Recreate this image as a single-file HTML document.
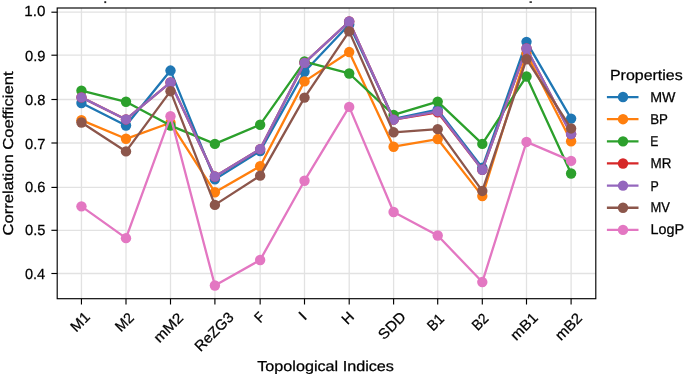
<!DOCTYPE html>
<html><head><meta charset="utf-8"><title>chart</title>
<style>html,body{margin:0;padding:0;background:#fff}body{width:685px;height:376px;overflow:hidden;position:relative}svg{position:absolute;left:0;top:0;will-change:transform;opacity:0.999}</style></head>
<body>
<svg width="685" height="376" viewBox="0 0 685 376" style="display:block;font-family:'Liberation Sans',sans-serif;text-rendering:geometricPrecision">
<style>text{stroke:#000;stroke-width:0.25px;fill:#000}</style>
<rect width="685" height="376" fill="#fff"/>
<filter id="b" x="-5" y="-5" width="695" height="386" filterUnits="userSpaceOnUse" color-interpolation-filters="sRGB"><feGaussianBlur stdDeviation="0"/></filter>
<g>
<rect x="-5" y="-5" width="695" height="386" fill="#fff"/>
<rect x="104.3" y="1.2" width="1.9" height="1.9" fill="#222"/>
<rect x="529.5" y="1.25" width="2.4" height="1.7" fill="#333"/>
<line x1="81.45" y1="8.0" x2="81.45" y2="298.7" stroke="#e2e2e2" stroke-width="1.3"/>
<line x1="126.00" y1="8.0" x2="126.00" y2="298.7" stroke="#e2e2e2" stroke-width="1.3"/>
<line x1="170.50" y1="8.0" x2="170.50" y2="298.7" stroke="#e2e2e2" stroke-width="1.3"/>
<line x1="214.90" y1="8.0" x2="214.90" y2="298.7" stroke="#e2e2e2" stroke-width="1.3"/>
<line x1="260.15" y1="8.0" x2="260.15" y2="298.7" stroke="#e2e2e2" stroke-width="1.3"/>
<line x1="304.50" y1="8.0" x2="304.50" y2="298.7" stroke="#e2e2e2" stroke-width="1.3"/>
<line x1="349.20" y1="8.0" x2="349.20" y2="298.7" stroke="#e2e2e2" stroke-width="1.3"/>
<line x1="393.60" y1="8.0" x2="393.60" y2="298.7" stroke="#e2e2e2" stroke-width="1.3"/>
<line x1="437.70" y1="8.0" x2="437.70" y2="298.7" stroke="#e2e2e2" stroke-width="1.3"/>
<line x1="482.30" y1="8.0" x2="482.30" y2="298.7" stroke="#e2e2e2" stroke-width="1.3"/>
<line x1="526.50" y1="8.0" x2="526.50" y2="298.7" stroke="#e2e2e2" stroke-width="1.3"/>
<line x1="571.10" y1="8.0" x2="571.10" y2="298.7" stroke="#e2e2e2" stroke-width="1.3"/>
<line x1="57.2" y1="273.50" x2="595.8" y2="273.50" stroke="#e2e2e2" stroke-width="1.3"/>
<line x1="57.2" y1="230.30" x2="595.8" y2="230.30" stroke="#e2e2e2" stroke-width="1.3"/>
<line x1="57.2" y1="187.40" x2="595.8" y2="187.40" stroke="#e2e2e2" stroke-width="1.3"/>
<line x1="57.2" y1="143.00" x2="595.8" y2="143.00" stroke="#e2e2e2" stroke-width="1.3"/>
<line x1="57.2" y1="99.50" x2="595.8" y2="99.50" stroke="#e2e2e2" stroke-width="1.3"/>
<line x1="57.2" y1="55.20" x2="595.8" y2="55.20" stroke="#e2e2e2" stroke-width="1.3"/>
<line x1="57.2" y1="12.20" x2="595.8" y2="12.20" stroke="#e2e2e2" stroke-width="1.3"/>
<clipPath id="c"><rect x="57.2" y="8.0" width="538.5999999999999" height="290.7"/></clipPath>
<g clip-path="url(#c)">
<polyline points="81.45,102.98 126.00,125.52 170.50,70.56 214.90,179.36 260.15,151.07 304.50,71.73 349.20,24.43 393.60,118.86 437.70,109.72 482.30,167.61 526.50,41.83 571.10,118.60" fill="none" stroke="#1f77b4" stroke-width="2.3" stroke-linejoin="round"/>
<circle cx="81.45" cy="102.98" r="5.2" fill="#1f77b4"/>
<circle cx="126.00" cy="125.52" r="5.2" fill="#1f77b4"/>
<circle cx="170.50" cy="70.56" r="5.2" fill="#1f77b4"/>
<circle cx="214.90" cy="179.36" r="5.2" fill="#1f77b4"/>
<circle cx="260.15" cy="151.07" r="5.2" fill="#1f77b4"/>
<circle cx="304.50" cy="71.73" r="5.2" fill="#1f77b4"/>
<circle cx="349.20" cy="24.43" r="5.2" fill="#1f77b4"/>
<circle cx="393.60" cy="118.86" r="5.2" fill="#1f77b4"/>
<circle cx="437.70" cy="109.72" r="5.2" fill="#1f77b4"/>
<circle cx="482.30" cy="167.61" r="5.2" fill="#1f77b4"/>
<circle cx="526.50" cy="41.83" r="5.2" fill="#1f77b4"/>
<circle cx="571.10" cy="118.60" r="5.2" fill="#1f77b4"/>
<polyline points="81.45,120.17 126.00,138.80 170.50,122.78 214.90,192.20 260.15,166.21 304.50,81.39 349.20,52.06 393.60,146.72 437.70,139.06 482.30,196.11 526.50,53.58 571.10,141.28" fill="none" stroke="#ff7f0e" stroke-width="2.3" stroke-linejoin="round"/>
<circle cx="81.45" cy="120.17" r="5.2" fill="#ff7f0e"/>
<circle cx="126.00" cy="138.80" r="5.2" fill="#ff7f0e"/>
<circle cx="170.50" cy="122.78" r="5.2" fill="#ff7f0e"/>
<circle cx="214.90" cy="192.20" r="5.2" fill="#ff7f0e"/>
<circle cx="260.15" cy="166.21" r="5.2" fill="#ff7f0e"/>
<circle cx="304.50" cy="81.39" r="5.2" fill="#ff7f0e"/>
<circle cx="349.20" cy="52.06" r="5.2" fill="#ff7f0e"/>
<circle cx="393.60" cy="146.72" r="5.2" fill="#ff7f0e"/>
<circle cx="437.70" cy="139.06" r="5.2" fill="#ff7f0e"/>
<circle cx="482.30" cy="196.11" r="5.2" fill="#ff7f0e"/>
<circle cx="526.50" cy="53.58" r="5.2" fill="#ff7f0e"/>
<circle cx="571.10" cy="141.28" r="5.2" fill="#ff7f0e"/>
<polyline points="81.45,90.66 126.00,101.76 170.50,125.61 214.90,143.89 260.15,124.70 304.50,61.55 349.20,73.47 393.60,114.95 437.70,101.59 482.30,143.89 526.50,76.48 571.10,173.53" fill="none" stroke="#2ca02c" stroke-width="2.3" stroke-linejoin="round"/>
<circle cx="81.45" cy="90.66" r="5.2" fill="#2ca02c"/>
<circle cx="126.00" cy="101.76" r="5.2" fill="#2ca02c"/>
<circle cx="170.50" cy="125.61" r="5.2" fill="#2ca02c"/>
<circle cx="214.90" cy="143.89" r="5.2" fill="#2ca02c"/>
<circle cx="260.15" cy="124.70" r="5.2" fill="#2ca02c"/>
<circle cx="304.50" cy="61.55" r="5.2" fill="#2ca02c"/>
<circle cx="349.20" cy="73.47" r="5.2" fill="#2ca02c"/>
<circle cx="393.60" cy="114.95" r="5.2" fill="#2ca02c"/>
<circle cx="437.70" cy="101.59" r="5.2" fill="#2ca02c"/>
<circle cx="482.30" cy="143.89" r="5.2" fill="#2ca02c"/>
<circle cx="526.50" cy="76.48" r="5.2" fill="#2ca02c"/>
<circle cx="571.10" cy="173.53" r="5.2" fill="#2ca02c"/>
<polyline points="81.45,97.37 126.00,119.43 170.50,82.48 214.90,176.53 260.15,149.11 304.50,62.90 349.20,21.55 393.60,119.69 437.70,112.34 482.30,169.78 526.50,48.45 571.10,134.10" fill="none" stroke="#d62728" stroke-width="2.3" stroke-linejoin="round"/>
<circle cx="81.45" cy="97.37" r="5.2" fill="#d62728"/>
<circle cx="126.00" cy="119.43" r="5.2" fill="#d62728"/>
<circle cx="170.50" cy="82.48" r="5.2" fill="#d62728"/>
<circle cx="214.90" cy="176.53" r="5.2" fill="#d62728"/>
<circle cx="260.15" cy="149.11" r="5.2" fill="#d62728"/>
<circle cx="304.50" cy="62.90" r="5.2" fill="#d62728"/>
<circle cx="349.20" cy="21.55" r="5.2" fill="#d62728"/>
<circle cx="393.60" cy="119.69" r="5.2" fill="#d62728"/>
<circle cx="437.70" cy="112.34" r="5.2" fill="#d62728"/>
<circle cx="482.30" cy="169.78" r="5.2" fill="#d62728"/>
<circle cx="526.50" cy="48.45" r="5.2" fill="#d62728"/>
<circle cx="571.10" cy="134.10" r="5.2" fill="#d62728"/>
<polyline points="81.45,97.37 126.00,119.43 170.50,82.48 214.90,176.53 260.15,149.11 304.50,62.90 349.20,21.55 393.60,119.69 437.70,111.38 482.30,169.78 526.50,48.45 571.10,134.10" fill="none" stroke="#9467bd" stroke-width="2.3" stroke-linejoin="round"/>
<circle cx="81.45" cy="97.37" r="5.2" fill="#9467bd"/>
<circle cx="126.00" cy="119.43" r="5.2" fill="#9467bd"/>
<circle cx="170.50" cy="82.48" r="5.2" fill="#9467bd"/>
<circle cx="214.90" cy="176.53" r="5.2" fill="#9467bd"/>
<circle cx="260.15" cy="149.11" r="5.2" fill="#9467bd"/>
<circle cx="304.50" cy="62.90" r="5.2" fill="#9467bd"/>
<circle cx="349.20" cy="21.55" r="5.2" fill="#9467bd"/>
<circle cx="393.60" cy="119.69" r="5.2" fill="#9467bd"/>
<circle cx="437.70" cy="111.38" r="5.2" fill="#9467bd"/>
<circle cx="482.30" cy="169.78" r="5.2" fill="#9467bd"/>
<circle cx="526.50" cy="48.45" r="5.2" fill="#9467bd"/>
<circle cx="571.10" cy="134.10" r="5.2" fill="#9467bd"/>
<polyline points="81.45,122.48 126.00,151.42 170.50,91.19 214.90,204.90 260.15,175.66 304.50,97.58 349.20,31.39 393.60,132.31 437.70,129.13 482.30,190.93 526.50,59.24 571.10,128.44" fill="none" stroke="#8c564b" stroke-width="2.3" stroke-linejoin="round"/>
<circle cx="81.45" cy="122.48" r="5.2" fill="#8c564b"/>
<circle cx="126.00" cy="151.42" r="5.2" fill="#8c564b"/>
<circle cx="170.50" cy="91.19" r="5.2" fill="#8c564b"/>
<circle cx="214.90" cy="204.90" r="5.2" fill="#8c564b"/>
<circle cx="260.15" cy="175.66" r="5.2" fill="#8c564b"/>
<circle cx="304.50" cy="97.58" r="5.2" fill="#8c564b"/>
<circle cx="349.20" cy="31.39" r="5.2" fill="#8c564b"/>
<circle cx="393.60" cy="132.31" r="5.2" fill="#8c564b"/>
<circle cx="437.70" cy="129.13" r="5.2" fill="#8c564b"/>
<circle cx="482.30" cy="190.93" r="5.2" fill="#8c564b"/>
<circle cx="526.50" cy="59.24" r="5.2" fill="#8c564b"/>
<circle cx="571.10" cy="128.44" r="5.2" fill="#8c564b"/>
<polyline points="81.45,206.34 126.00,238.15 170.50,116.30 214.90,285.55 260.15,260.00 304.50,180.71 349.20,106.90 393.60,212.00 437.70,235.50 482.30,282.06 526.50,141.93 571.10,160.90" fill="none" stroke="#e377c2" stroke-width="2.3" stroke-linejoin="round"/>
<circle cx="81.45" cy="206.34" r="5.2" fill="#e377c2"/>
<circle cx="126.00" cy="238.15" r="5.2" fill="#e377c2"/>
<circle cx="170.50" cy="116.30" r="5.2" fill="#e377c2"/>
<circle cx="214.90" cy="285.55" r="5.2" fill="#e377c2"/>
<circle cx="260.15" cy="260.00" r="5.2" fill="#e377c2"/>
<circle cx="304.50" cy="180.71" r="5.2" fill="#e377c2"/>
<circle cx="349.20" cy="106.90" r="5.2" fill="#e377c2"/>
<circle cx="393.60" cy="212.00" r="5.2" fill="#e377c2"/>
<circle cx="437.70" cy="235.50" r="5.2" fill="#e377c2"/>
<circle cx="482.30" cy="282.06" r="5.2" fill="#e377c2"/>
<circle cx="526.50" cy="141.93" r="5.2" fill="#e377c2"/>
<circle cx="571.10" cy="160.90" r="5.2" fill="#e377c2"/>
</g>
<rect x="57.2" y="8.0" width="538.5999999999999" height="290.7" fill="none" stroke="#000" stroke-width="1.15"/>
<line x1="81.45" y1="298.7" x2="81.45" y2="304.5" stroke="#000" stroke-width="1.15"/>
<line x1="126.00" y1="298.7" x2="126.00" y2="304.5" stroke="#000" stroke-width="1.15"/>
<line x1="170.50" y1="298.7" x2="170.50" y2="304.5" stroke="#000" stroke-width="1.15"/>
<line x1="214.90" y1="298.7" x2="214.90" y2="304.5" stroke="#000" stroke-width="1.15"/>
<line x1="260.15" y1="298.7" x2="260.15" y2="304.5" stroke="#000" stroke-width="1.15"/>
<line x1="304.50" y1="298.7" x2="304.50" y2="304.5" stroke="#000" stroke-width="1.15"/>
<line x1="349.20" y1="298.7" x2="349.20" y2="304.5" stroke="#000" stroke-width="1.15"/>
<line x1="393.60" y1="298.7" x2="393.60" y2="304.5" stroke="#000" stroke-width="1.15"/>
<line x1="437.70" y1="298.7" x2="437.70" y2="304.5" stroke="#000" stroke-width="1.15"/>
<line x1="482.30" y1="298.7" x2="482.30" y2="304.5" stroke="#000" stroke-width="1.15"/>
<line x1="526.50" y1="298.7" x2="526.50" y2="304.5" stroke="#000" stroke-width="1.15"/>
<line x1="571.10" y1="298.7" x2="571.10" y2="304.5" stroke="#000" stroke-width="1.15"/>
<line x1="51.400000000000006" y1="273.50" x2="57.2" y2="273.50" stroke="#000" stroke-width="1.15"/>
<line x1="51.400000000000006" y1="230.30" x2="57.2" y2="230.30" stroke="#000" stroke-width="1.15"/>
<line x1="51.400000000000006" y1="187.40" x2="57.2" y2="187.40" stroke="#000" stroke-width="1.15"/>
<line x1="51.400000000000006" y1="143.00" x2="57.2" y2="143.00" stroke="#000" stroke-width="1.15"/>
<line x1="51.400000000000006" y1="99.50" x2="57.2" y2="99.50" stroke="#000" stroke-width="1.15"/>
<line x1="51.400000000000006" y1="55.20" x2="57.2" y2="55.20" stroke="#000" stroke-width="1.15"/>
<line x1="51.400000000000006" y1="12.20" x2="57.2" y2="12.20" stroke="#000" stroke-width="1.15"/>
<line x1="606.9" y1="97.05" x2="638.5" y2="97.05" stroke="#1f77b4" stroke-width="2.3"/>
<circle cx="623.0" cy="97.05" r="5.2" fill="#1f77b4"/>
<line x1="606.9" y1="119.19" x2="638.5" y2="119.19" stroke="#ff7f0e" stroke-width="2.3"/>
<circle cx="623.0" cy="119.19" r="5.2" fill="#ff7f0e"/>
<line x1="606.9" y1="141.33" x2="638.5" y2="141.33" stroke="#2ca02c" stroke-width="2.3"/>
<circle cx="623.0" cy="141.33" r="5.2" fill="#2ca02c"/>
<line x1="606.9" y1="163.47" x2="638.5" y2="163.47" stroke="#d62728" stroke-width="2.3"/>
<circle cx="623.0" cy="163.47" r="5.2" fill="#d62728"/>
<line x1="606.9" y1="185.61" x2="638.5" y2="185.61" stroke="#9467bd" stroke-width="2.3"/>
<circle cx="623.0" cy="185.61" r="5.2" fill="#9467bd"/>
<line x1="606.9" y1="207.75" x2="638.5" y2="207.75" stroke="#8c564b" stroke-width="2.3"/>
<circle cx="623.0" cy="207.75" r="5.2" fill="#8c564b"/>
<line x1="606.9" y1="229.89" x2="638.5" y2="229.89" stroke="#e377c2" stroke-width="2.3"/>
<circle cx="623.0" cy="229.89" r="5.2" fill="#e377c2"/>
<text transform="translate(45.15,279.23)" font-size="14.7" text-anchor="end" textLength="20.19" lengthAdjust="spacingAndGlyphs">0.4</text>
<text transform="translate(45.38,234.90)" font-size="14.7" text-anchor="end" textLength="20.41" lengthAdjust="spacingAndGlyphs">0.5</text>
<text transform="translate(45.38,191.55)" font-size="14.7" text-anchor="end" textLength="20.41" lengthAdjust="spacingAndGlyphs">0.6</text>
<text transform="translate(45.38,148.53)" font-size="14.7" text-anchor="end" textLength="20.41" lengthAdjust="spacingAndGlyphs">0.7</text>
<text transform="translate(45.38,104.56)" font-size="14.7" text-anchor="end" textLength="20.41" lengthAdjust="spacingAndGlyphs">0.8</text>
<text transform="translate(45.38,60.72)" font-size="14.7" text-anchor="end" textLength="20.41" lengthAdjust="spacingAndGlyphs">0.9</text>
<text transform="translate(45.38,16.35)" font-size="14.7" text-anchor="end" textLength="21.09" lengthAdjust="spacingAndGlyphs">1.0</text>
<text transform="translate(83.62,325.31) rotate(-45)" font-size="14.6" text-anchor="middle" textLength="20.83" lengthAdjust="spacingAndGlyphs">M1</text>
<text transform="translate(127.84,325.65) rotate(-45)" font-size="14.6" text-anchor="middle" textLength="19.70" lengthAdjust="spacingAndGlyphs">M2</text>
<text transform="translate(171.84,331.15) rotate(-45)" font-size="14.6" text-anchor="middle" textLength="35.17" lengthAdjust="spacingAndGlyphs">mM2</text>
<text transform="translate(217.47,335.12) rotate(-45)" font-size="14.6" text-anchor="middle" textLength="48.23" lengthAdjust="spacingAndGlyphs">ReZG3</text>
<text transform="translate(263.01,320.78) rotate(-45)" font-size="14.6" text-anchor="middle" textLength="7.99" lengthAdjust="spacingAndGlyphs">F</text>
<text transform="translate(306.17,319.31) rotate(-45)" font-size="14.6" text-anchor="middle" textLength="4.50" lengthAdjust="spacingAndGlyphs">I</text>
<text transform="translate(351.24,321.56) rotate(-45)" font-size="14.6" text-anchor="middle" textLength="10.58" lengthAdjust="spacingAndGlyphs">H</text>
<text transform="translate(395.36,329.19) rotate(-45)" font-size="14.6" text-anchor="middle" textLength="31.98" lengthAdjust="spacingAndGlyphs">SDD</text>
<text transform="translate(439.02,325.75) rotate(-45)" font-size="14.6" text-anchor="middle" textLength="17.24" lengthAdjust="spacingAndGlyphs">B1</text>
<text transform="translate(483.52,325.26) rotate(-45)" font-size="14.6" text-anchor="middle" textLength="16.67" lengthAdjust="spacingAndGlyphs">B2</text>
<text transform="translate(527.59,329.85) rotate(-45)" font-size="14.6" text-anchor="middle" textLength="31.98" lengthAdjust="spacingAndGlyphs">mB1</text>
<text transform="translate(571.98,330.18) rotate(-45)" font-size="14.6" text-anchor="middle" textLength="31.39" lengthAdjust="spacingAndGlyphs">mB2</text>
<text transform="translate(325.58,371.05)" font-size="14.4" text-anchor="middle" textLength="136.73" lengthAdjust="spacingAndGlyphs">Topological Indices</text>
<text transform="translate(13.21,153.55) rotate(-90)" font-size="14.4" text-anchor="middle" textLength="164.09" lengthAdjust="spacingAndGlyphs">Correlation Coefficient</text>
<text transform="translate(609.95,80.14)" font-size="14.6" text-anchor="start" textLength="72.73" lengthAdjust="spacingAndGlyphs">Properties</text>
<text transform="translate(650.22,102.04)" font-size="14.3" text-anchor="start" textLength="25.27" lengthAdjust="spacingAndGlyphs">MW</text>
<text transform="translate(650.17,124.46)" font-size="14.3" text-anchor="start" textLength="17.72" lengthAdjust="spacingAndGlyphs">BP</text>
<text transform="translate(650.17,146.41)" font-size="14.3" text-anchor="start" textLength="8.17" lengthAdjust="spacingAndGlyphs">E</text>
<text transform="translate(650.44,168.38)" font-size="14.3" text-anchor="start" textLength="20.96" lengthAdjust="spacingAndGlyphs">MR</text>
<text transform="translate(650.54,190.96)" font-size="14.3" text-anchor="start" textLength="8.27" lengthAdjust="spacingAndGlyphs">P</text>
<text transform="translate(650.54,211.85)" font-size="14.3" text-anchor="start" textLength="19.50" lengthAdjust="spacingAndGlyphs">MV</text>
<text transform="translate(650.54,233.63)" font-size="14.3" text-anchor="start" textLength="33.54" lengthAdjust="spacingAndGlyphs">LogP</text>
</g>
</svg>
</body></html>
